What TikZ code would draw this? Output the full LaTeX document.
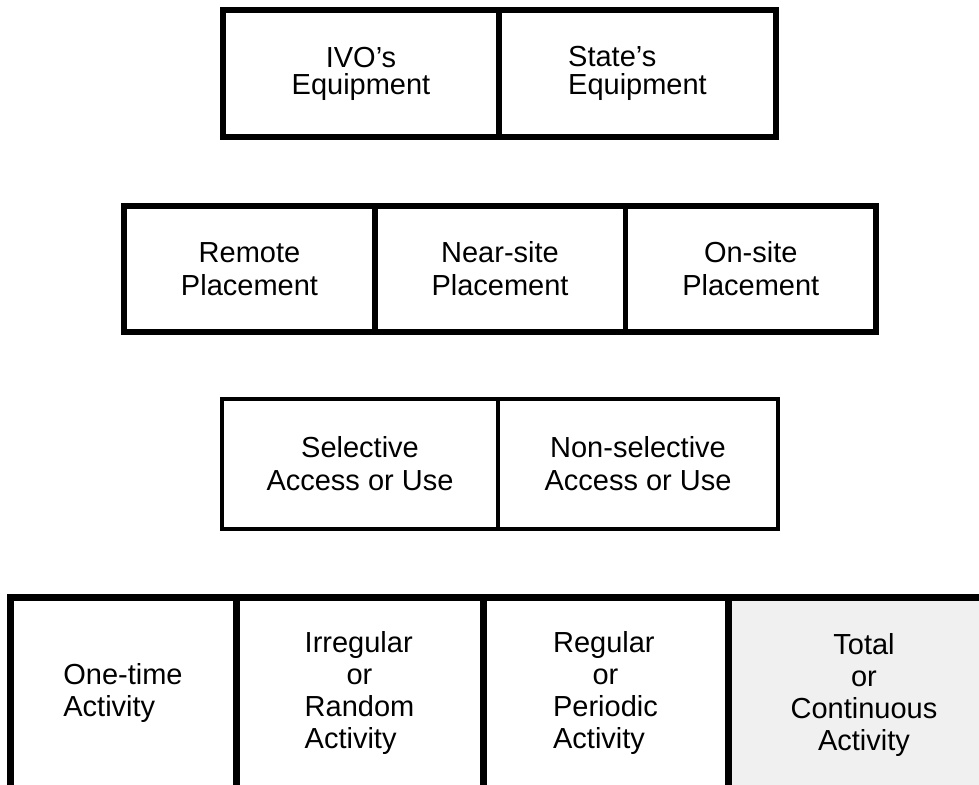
\documentclass[tikz,border=0pt]{standalone}
\usepackage{fontspec}
\setmainfont{Liberation Sans}
\newcommand{\lcol}[1]{\begin{tabular}{@{}l@{}}#1\end{tabular}}
\newcommand{\midc}[1]{\multicolumn{1}{@{}c@{}}{#1}}
\begin{document}
\begin{tikzpicture}[x=1pt,y=-1pt,
  cell/.style={draw, rectangle, inner sep=0pt, align=center, anchor=center},
  txt/.style={font=\fontsize{29}{33}\selectfont},
  txttop/.style={font=\fontsize{29}{27}\selectfont},
  txtlow/.style={font=\fontsize{29}{32}\selectfont}]
\useasboundingbox (0,0) rectangle (979,784);
% row 1
\node[cell, txttop, line width=6pt, minimum width=276pt, minimum height=127pt] (ivo) at (361,73.5) {IVO's\\Equipment};
\node[cell, txttop, line width=6pt, minimum width=277pt, minimum height=127pt] (state) at (637.5,73.5) {\renewcommand{\arraystretch}{0.82}\lcol{State's\\Equipment}};
% row 2
\node[cell, txt, line width=5.5pt, minimum width=251pt, minimum height=126pt] (remote) at (249.5,269) {Remote\\Placement};
\node[cell, txt, line width=5.5pt, minimum width=250.5pt, minimum height=126pt] (near) at (500,269) {Near-site\\Placement};
\node[cell, txt, line width=5.5pt, minimum width=250.5pt, minimum height=126pt] (onsite) at (750.75,269) {On-site\\Placement};
% row 3
\node[cell, txt, line width=4.5pt, minimum width=276pt, minimum height=130pt] (sel) at (360,464) {Selective\\Access or Use};
\node[cell, txt, line width=4.5pt, minimum width=280pt, minimum height=130pt] (nonsel) at (638,464) {Non-selective\\Access or Use};
% row 4
\node[cell, txtlow, line width=7pt, minimum width=226pt, minimum height=195pt] (once) at (123,694.5) {\lcol{One-time\\Activity}};
\node[cell, txtlow, line width=7pt, minimum width=247pt, minimum height=195pt] (irreg) at (359.5,694.5) {\lcol{Irregular\\\midc{or}\\Random\\Activity}};
\node[cell, txtlow, line width=7pt, minimum width=245pt, minimum height=195pt] (reg) at (605.5,694.5) {\lcol{Regular\\\midc{or}\\Periodic\\Activity}};
\node[cell, txtlow, line width=7pt, fill=black!6, minimum width=272pt, minimum height=195pt] (total) at (864,694.5) {Total\\or\\Continuous\\Activity};
\end{tikzpicture}
\end{document}
